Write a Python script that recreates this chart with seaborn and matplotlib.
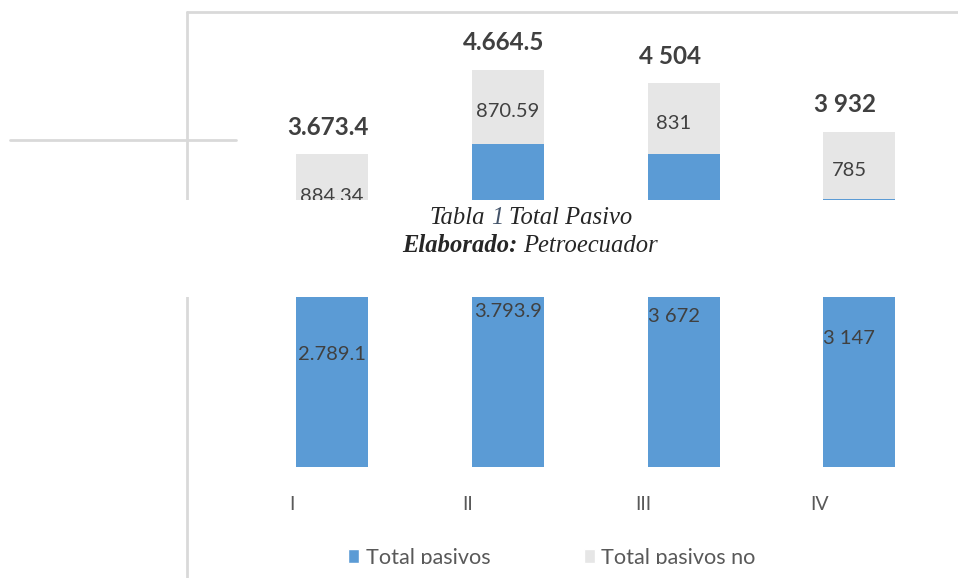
import numpy as np
import pandas as pd
import matplotlib
matplotlib.use("Agg")
import matplotlib.pyplot as plt
import seaborn as sns
from matplotlib.patches import Rectangle, Patch
from matplotlib.lines import Line2D
from matplotlib.transforms import ScaledTranslation

# datos
trimestres = ["I", "II", "III", "IV"]
total_pasivos = [2789.1, 3793.9, 3672, 3147]
pasivos_no_corrientes = [884.34, 870.59, 831, 785]
etiquetas_pasivos = ["2.789.1", "3.793.9", "3 672", "3 147"]
etiquetas_no_corr = ["884.34", "870.59", "831", "785"]
etiquetas_total = ["3.673.4", "4.664.5", "4 504", "3 932"]

df = pd.DataFrame({"trimestre": trimestres,
                   "pasivos": total_pasivos,
                   "no_corr": pasivos_no_corrientes})
df["total"] = df["pasivos"] + df["no_corr"]

AZUL = "#5B9BD5"
GRIS = "#E6E6E6"
LINEA = "#D9D9D9"
TEXTO = "#404040"

# ajustes finos de posicion de etiquetas (px)
nudge_lab = [0, 0, -10, -10]
nudge_tot = [-4, -4, -14, -14]
PT = 0.72  # puntos por pixel a 100 dpi

sns.set_style("white")
plt.rcParams["font.family"] = ["Lato", "DejaVu Sans"]

W, H = 958, 578
fig = plt.figure(figsize=(W / 100, H / 100), dpi=100)
ax = fig.add_axes([187 / W, (H - 467) / H, (W - 187) / W, (467 - 12) / H])

sns.barplot(data=df, x="trimestre", y="total", color=GRIS, saturation=1,
            width=0.41, linewidth=0, ax=ax)
sns.barplot(data=df, x="trimestre", y="pasivos", color=AZUL, saturation=1,
            width=0.41, linewidth=0, ax=ax)

ax.set_xlim(-0.825, 3.561)
ax.set_ylim(0, 5340)
ax.set_xlabel("")
ax.set_ylabel("")
ax.set_yticks([])
for s in ax.spines.values():
    s.set_visible(False)
ax.tick_params(axis="x", length=0, pad=21, labelsize=14, labelcolor="#595959")
off = ScaledTranslation(-0.40, 0, fig.dpi_scale_trans)
for lab in ax.get_xticklabels():
    lab.set_transform(lab.get_transform() + off)

for i in range(len(trimestres)):
    p = df["pasivos"][i]
    n = df["no_corr"][i]
    ax.annotate(etiquetas_pasivos[i], (i, p / 2), xytext=(nudge_lab[i] * PT, -6 * PT),
                textcoords="offset points", ha="center", va="center",
                fontsize=14.5, color=TEXTO)
    ax.annotate(etiquetas_no_corr[i], (i, p + n / 2), xytext=(nudge_lab[i] * PT, -5 * PT),
                textcoords="offset points", ha="center", va="center",
                fontsize=14.5, color=TEXTO)
    ax.annotate(etiquetas_total[i], (i, p + n), xytext=(nudge_tot[i] * PT, 27 * PT),
                textcoords="offset points", ha="center", va="center",
                fontsize=17.5, fontweight="bold", color=TEXTO)

# bordes de la tabla
fig.add_artist(Line2D([187 / W, 1], [1 - 12 / H] * 2, color=LINEA, lw=2, zorder=2))
fig.add_artist(Line2D([187 / W] * 2, [0, 1 - 12 / H], color=LINEA, lw=2, zorder=2))
fig.add_artist(Line2D([10 / W, 236 / W], [1 - 140 / H] * 2, color=LINEA, lw=2, zorder=2))

# franja blanca con el titulo
fig.add_artist(Rectangle((0, 1 - 297 / H), 1, 97 / H, transform=fig.transFigure,
                         facecolor="white", edgecolor="none", zorder=3))


def linea_mixta(partes, xc, base, size):
    r = fig.canvas.get_renderer()
    gap = size * 0.25 / PT
    objs = []
    for s, kw in partes:
        t = fig.text(0, 1 - base / H, s, fontsize=size, family="Liberation Serif",
                     style="italic", va="baseline", ha="left", zorder=4, **kw)
        objs.append((t, t.get_window_extent(r).width))
    total = sum(w for _, w in objs) + gap * (len(objs) - 1)
    x = xc - total / 2
    for t, w in objs:
        t.set_x(x / W)
        x += w + gap


linea_mixta([("Tabla", {}), ("1", {"color": "#44546A"}), ("Total Pasivo", {})], 531, 224, 17.7)
linea_mixta([("Elaborado:", {"weight": "bold"}), ("Petroecuador", {})], 530, 252, 17.7)

handles = [Patch(facecolor=AZUL, label="Total pasivos"),
           Patch(facecolor=GRIS, label="Total pasivos no")]
fig.legend(handles=handles, loc="center left", bbox_to_anchor=(348 / W, 1 - 558 / H),
           ncol=2, frameon=False, fontsize=15.6, handlelength=0.52, handleheight=0.6,
           handletextpad=0.3, columnspacing=4.3, borderpad=0, borderaxespad=0,
           labelcolor="#595959")

# la leyenda queda cortada por el borde inferior
fig.add_artist(Rectangle((300 / W, 0), 500 / W, 14 / H, transform=fig.transFigure,
                         facecolor="white", edgecolor="none", zorder=6))

fig.savefig("out.png", dpi=100)
